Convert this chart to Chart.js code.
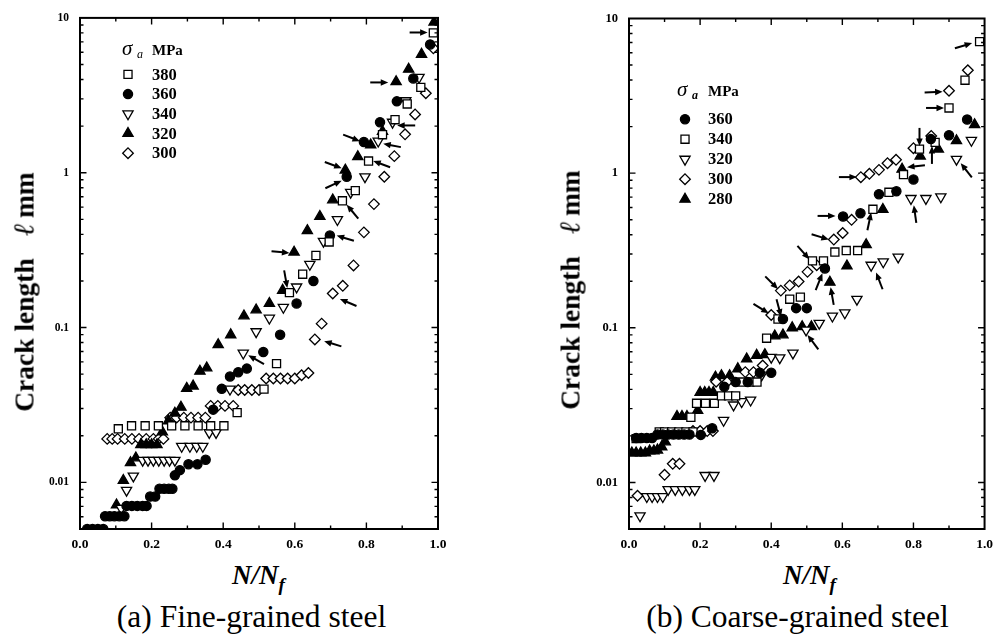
<!DOCTYPE html>
<html>
<head>
<meta charset="utf-8">
<script src="https://cdn.jsdelivr.net/npm/chart.js@4/dist/chart.umd.min.js"></script>
<style>
body { margin: 0; width: 1002px; height: 640px; background: #fff; position: relative; overflow: hidden; font-family: "Liberation Serif", "Times New Roman", serif; color: #000; }
canvas { position: absolute; top: 0; }
#chartA { left: 0; }
#chartB { left: 500px; }
.ytitle { position: absolute; white-space: nowrap; font-size: 27.5px; line-height: 1; font-weight: bold; transform: translate(-50%, -50%) rotate(-90deg); }
.ytitle .ell { font-weight: normal; font-style: italic; font-size: 29px; margin: 0 6px 0 22px; }
.xtitle { position: absolute; top: 562px; font-size: 27px; line-height: 1; font-weight: bold; font-style: italic; white-space: nowrap; }
.xtitle sub { font-size: 19px; vertical-align: -7px; }
.caption { position: absolute; top: 601px; font-size: 31.5px; line-height: 1; white-space: nowrap; transform: translateX(-50%); }
</style>
</head>
<body>
<canvas id="chartA" width="460" height="560"></canvas>
<canvas id="chartB" width="500" height="560"></canvas>

<div class="ytitle" style="left:23.5px; top:292px;">Crack length<span class="ell">ℓ</span>mm</div>
<div class="ytitle" style="left:570px; top:290px;">Crack length<span class="ell">ℓ</span>mm</div>
<div class="xtitle" style="left:232px;">N/N<sub>f</sub></div>
<div class="xtitle" style="left:783px;">N/N<sub>f</sub></div>
<div class="caption" style="left:251.5px;">(a) Fine-grained steel</div>
<div class="caption" style="left:797.5px;">(b) Coarse-grained steel</div>

<script>
// axis ticks
const xTickValues = [0, 0.2, 0.4, 0.6, 0.8, 1.0];
const xTickLabels = ["0.0", "0.2", "0.4", "0.6", "0.8", "1.0"];
const yTickValues = [0.01, 0.1, 1, 10];
const yTickLabels = ["0.01", "0.1", "1", "10"];

// (a) fine-grained steel, [N/Nf, crack length mm]
const fineLevels = ["380", "360", "340", "320", "300"];
const fine380 = [[0.107,0.0222],[0.144,0.0232],[0.182,0.0232],[0.219,0.0232],[0.256,0.0232],[0.293,0.0232],[0.330,0.0232],[0.365,0.0232],[0.402,0.0232],[0.439,0.0282],[0.514,0.040],[0.549,0.0585],[0.585,0.168],[0.622,0.221],[0.659,0.292],[0.696,0.357],[0.733,0.659],[0.769,0.767],[0.806,1.19],[0.845,1.76],[0.880,2.20],[0.914,2.78],[0.952,3.56],[0.987,8.01]];
const fine360 = [[0.02,0.005],[0.035,0.005],[0.05,0.005],[0.065,0.005],[0.07,0.00605],[0.083,0.00605],[0.096,0.00605],[0.11,0.00605],[0.124,0.00605],[0.13,0.00705],[0.145,0.00705],[0.16,0.00705],[0.175,0.00705],[0.186,0.00705],[0.196,0.0081],[0.21,0.0081],[0.222,0.0091],[0.235,0.0091],[0.248,0.0091],[0.258,0.0091],[0.265,0.0111],[0.279,0.012],[0.303,0.0131],[0.328,0.0131],[0.351,0.014],[0.372,0.0295],[0.396,0.0402],[0.419,0.0483],[0.442,0.0515],[0.466,0.0543],[0.512,0.0695],[0.559,0.0898],[0.605,0.143],[0.652,0.200],[0.698,0.393],[0.745,0.942],[0.793,1.58],[0.838,2.12],[0.885,2.89],[0.931,4.06],[0.978,6.74]];
const fine340 = [[0.115,0.0068],[0.130,0.0089],[0.149,0.011],[0.175,0.0139],[0.19,0.0139],[0.205,0.0139],[0.22,0.0139],[0.235,0.0139],[0.25,0.0139],[0.265,0.0139],[0.284,0.0171],[0.307,0.0171],[0.326,0.0171],[0.343,0.0171],[0.361,0.021],[0.38,0.021],[0.419,0.040],[0.456,0.0684],[0.492,0.094],[0.529,0.115],[0.568,0.135],[0.605,0.183],[0.642,0.256],[0.680,0.361],[0.719,0.498],[0.756,0.748],[0.796,0.942],[0.833,1.60],[0.873,2.12],[0.910,2.92],[0.947,4.13]];
const fine320 = [[0.102,0.00715],[0.121,0.0103],[0.141,0.0134],[0.156,0.0144],[0.17,0.0175],[0.185,0.0175],[0.20,0.0175],[0.215,0.0175],[0.230,0.0212],[0.247,0.025],[0.265,0.028],[0.282,0.0306],[0.298,0.0405],[0.316,0.0419],[0.335,0.0522],[0.354,0.0549],[0.386,0.0775],[0.421,0.0898],[0.458,0.119],[0.492,0.130],[0.529,0.143],[0.566,0.174],[0.598,0.307],[0.635,0.423],[0.670,0.522],[0.706,0.668],[0.741,1.04],[0.776,1.27],[0.812,1.51],[0.845,1.85],[0.883,3.87],[0.918,4.66],[0.954,5.82],[0.989,9.39]];
const fine300 = [[0.076,0.0191],[0.09,0.0191],[0.105,0.0191],[0.125,0.0191],[0.145,0.0191],[0.165,0.0191],[0.185,0.0191],[0.205,0.0191],[0.22,0.0191],[0.233,0.0191],[0.252,0.0262],[0.27,0.0262],[0.29,0.0262],[0.31,0.0262],[0.33,0.0262],[0.35,0.0262],[0.365,0.0312],[0.385,0.0312],[0.405,0.0312],[0.428,0.0312],[0.442,0.0395],[0.46,0.0395],[0.48,0.0395],[0.50,0.0395],[0.52,0.0469],[0.54,0.0469],[0.56,0.0469],[0.58,0.0469],[0.60,0.0469],[0.619,0.0492],[0.638,0.0509],[0.656,0.0838],[0.675,0.106],[0.706,0.166],[0.734,0.186],[0.764,0.252],[0.793,0.412],[0.821,0.627],[0.850,0.942],[0.878,1.28],[0.908,1.77],[0.936,2.38],[0.966,3.26],[0.987,6.36]];

// (b) coarse-grained steel
const coarseLevels = ["360", "340", "320", "300", "280"];
const coarse360 = [[0.02,0.0194],[0.035,0.0194],[0.05,0.0194],[0.065,0.0194],[0.08,0.0204],[0.095,0.0204],[0.11,0.0204],[0.125,0.0204],[0.14,0.0204],[0.155,0.0204],[0.17,0.0204],[0.202,0.0203],[0.234,0.0224],[0.268,0.0415],[0.30,0.0446],[0.334,0.0446],[0.368,0.0512],[0.40,0.0512],[0.433,0.114],[0.47,0.134],[0.50,0.134],[0.551,0.242],[0.602,0.524],[0.651,0.55],[0.703,0.731],[0.752,0.763],[0.80,0.91],[0.849,1.66],[0.90,1.76],[0.951,2.22]];
const coarse340 = [[0.02,0.0192],[0.085,0.0212],[0.10,0.0212],[0.12,0.0212],[0.14,0.0212],[0.16,0.0212],[0.18,0.0212],[0.174,0.0264],[0.19,0.0325],[0.215,0.0325],[0.24,0.0325],[0.26,0.0363],[0.28,0.0363],[0.30,0.0363],[0.32,0.0446],[0.34,0.0446],[0.36,0.0446],[0.387,0.0856],[0.419,0.114],[0.452,0.153],[0.482,0.158],[0.516,0.271],[0.547,0.271],[0.579,0.309],[0.611,0.316],[0.643,0.316],[0.686,0.584],[0.731,0.752],[0.772,0.98],[0.817,1.43],[0.861,1.58],[0.90,2.64],[0.945,3.99],[0.986,7.08]];
const coarse320 = [[0.031,0.00608],[0.05,0.0081],[0.065,0.0081],[0.08,0.0081],[0.095,0.0081],[0.11,0.009],[0.13,0.009],[0.15,0.009],[0.17,0.009],[0.185,0.009],[0.214,0.0111],[0.239,0.0111],[0.266,0.0252],[0.294,0.0317],[0.317,0.0333],[0.342,0.0341],[0.373,0.0495],[0.40,0.0645],[0.424,0.064],[0.461,0.0687],[0.498,0.0968],[0.535,0.107],[0.572,0.119],[0.607,0.125],[0.641,0.153],[0.681,0.254],[0.715,0.267],[0.757,0.287],[0.793,0.686],[0.835,0.686],[0.877,0.703],[0.921,1.23],[0.963,1.63]];
const coarse300 = [[0.024,0.0082],[0.10,0.0112],[0.123,0.0132],[0.142,0.0132],[0.18,0.0215],[0.20,0.0215],[0.22,0.0215],[0.236,0.0215],[0.245,0.0448],[0.276,0.0446],[0.327,0.0517],[0.35,0.0517],[0.376,0.057],[0.40,0.121],[0.427,0.174],[0.452,0.188],[0.477,0.199],[0.502,0.230],[0.528,0.254],[0.576,0.372],[0.601,0.41],[0.626,0.499],[0.652,0.942],[0.676,0.99],[0.703,1.05],[0.727,1.16],[0.751,1.22],[0.80,1.45],[0.85,1.74],[0.90,3.41],[0.953,4.63]];
const coarse280 = [[0.008,0.0155],[0.02,0.0155],[0.033,0.0155],[0.046,0.0155],[0.058,0.016],[0.07,0.016],[0.08,0.0162],[0.092,0.017],[0.102,0.0183],[0.135,0.0267],[0.149,0.0267],[0.163,0.0267],[0.193,0.0292],[0.20,0.0382],[0.213,0.0382],[0.225,0.0382],[0.237,0.0382],[0.243,0.048],[0.26,0.049],[0.283,0.049],[0.306,0.0543],[0.331,0.0629],[0.359,0.0664],[0.382,0.0671],[0.41,0.0887],[0.433,0.09],[0.459,0.10],[0.487,0.1017],[0.513,0.1017],[0.565,0.197],[0.613,0.251],[0.667,0.345],[0.714,0.583],[0.768,1.06],[0.819,1.29],[0.87,1.43],[0.921,1.62],[0.972,2.06]];

// arrow annotations: [tip N/Nf, tip length, direction deg]
const fineArrows = [[0.971,8.05,0],[0.861,3.83,0],[0.886,2.02,180],[0.782,1.60,21],[0.847,1.54,191],[0.819,1.19,200],[0.731,1.07,20],[0.731,0.889,-25],[0.745,0.621,230],[0.717,0.393,197],[0.585,0.303,6],[0.579,0.18,80],[0.726,0.153,203],[0.47,0.0662,209],[0.682,0.0817,197]];
const coarseArrows = [[0.965,6.94,-17],[0.882,3.36,-2],[0.886,2.64,0],[0.817,1.50,90],[0.852,1.50,-90],[0.933,1.16,232],[0.782,1.09,173],[0.641,0.943,0],[0.801,0.621,262],[0.581,0.529,0],[0.681,0.556,-78],[0.562,0.372,17],[0.507,0.277,49],[0.544,0.225,-68],[0.567,0.183,-100],[0.695,0.228,249],[0.419,0.178,45],[0.428,0.118,75],[0.393,0.124,32],[0.502,0.0899,233]];

const serif = '"Liberation Serif", "Times New Roman", serif';

const markers = {
    openSquare: { pointStyle: "rect", radius: 5.7, rotation: 0, fill: "#fff" },
    dot: { pointStyle: "circle", radius: 4.6, rotation: 0, fill: "#000" },
    openDown: { pointStyle: "triangle", radius: 5.9, rotation: 180, fill: "#fff" },
    solidUp: { pointStyle: "triangle", radius: 5.9, rotation: 0, fill: "#000" },
    openDiamond: { pointStyle: "rectRot", radius: 5.3, rotation: 0, fill: "#fff" }
};

function makeDataset(label, points, marker) {
    const m = markers[marker];
    return {
        label: label,
        data: points.map(p => ({ x: p[0], y: p[1] })),
        marker: marker,
        pointStyle: m.pointStyle,
        pointRadius: m.radius,
        pointRotation: m.rotation,
        pointBackgroundColor: m.fill,
        pointBorderColor: "#000",
        pointBorderWidth: 1.3,
        showLine: false,
        clip: 0
    };
}

function drawMarker(ctx, marker, x, y) {
    const m = markers[marker];
    ctx.fillStyle = m.fill;
    ctx.strokeStyle = "#000";
    ctx.lineWidth = 1.3;
    Chart.helpers.drawPoint(ctx, { pointStyle: m.pointStyle, radius: m.radius, rotation: m.rotation, borderWidth: 1.3 }, x, y);
}

const framePlugin = {
    id: "frame",
    afterDraw(chart, args, opts) {
        const ctx = chart.ctx;
        const a = chart.chartArea;
        const x = chart.scales.x;
        const y = chart.scales.y;
        ctx.save();
        ctx.strokeStyle = "#000";
        ctx.lineWidth = 1.4;
        ctx.beginPath();
        for (let i = 1; i < 10; i++) {
            const px = x.getPixelForValue(i / 10);
            const len = i % 2 === 0 ? 6.5 : 3.5;
            ctx.moveTo(px, a.bottom); ctx.lineTo(px, a.bottom - len);
            ctx.moveTo(px, a.top); ctx.lineTo(px, a.top + len);
        }
        for (let e = -3; e <= 1; e++) {
            for (let m = 1; m <= 9; m++) {
                const v = m * Math.pow(10, e);
                if (v <= y.min * 1.0001 || v >= y.max * 0.9999) continue;
                const py = y.getPixelForValue(v);
                const len = m === 1 ? 6.5 : 3.5;
                ctx.moveTo(a.left, py); ctx.lineTo(a.left + len, py);
                ctx.moveTo(a.right, py); ctx.lineTo(a.right - len, py);
            }
        }
        ctx.stroke();
        ctx.lineWidth = 2;
        ctx.strokeRect(a.left, a.top, a.right - a.left, a.bottom - a.top);

        // arrows
        ctx.fillStyle = "#000";
        ctx.lineWidth = 2;
        opts.arrows.forEach(ar => {
            const tx = x.getPixelForValue(ar[0]);
            const ty = y.getPixelForValue(ar[1]);
            const ang = ar[2] * Math.PI / 180;
            const c = Math.cos(ang), s = Math.sin(ang);
            const len = 18, head = 7.5, hw = 3.2;
            ctx.beginPath();
            ctx.moveTo(tx - c * len, ty - s * len);
            ctx.lineTo(tx - c * (head - 1), ty - s * (head - 1));
            ctx.stroke();
            ctx.beginPath();
            ctx.moveTo(tx, ty);
            ctx.lineTo(tx - c * head - s * hw, ty - s * head + c * hw);
            ctx.lineTo(tx - c * head + s * hw, ty - s * head - c * hw);
            ctx.closePath();
            ctx.fill();
        });

        // legend
        const lg = opts.legend;
        const lx = a.left, ly = a.top;
        ctx.fillStyle = "#000";
        ctx.textBaseline = "alphabetic";
        ctx.textAlign = "left";
        ctx.font = "italic 21px " + serif;
        ctx.fillText("σ", lx + lg.sigmaX, ly + lg.headY);
        ctx.font = lg.subFont + " 12px " + serif;
        ctx.fillText("a", lx + lg.subX, ly + lg.headY + 3);
        ctx.font = "bold 15px " + serif;
        ctx.fillText("MPa", lx + lg.labelX, ly + lg.headY);
        ctx.font = "bold 16.5px " + serif;
        ctx.textBaseline = "middle";
        chart.data.datasets.forEach((d, i) => {
            const ry = ly + lg.rowY + i * lg.rowGap;
            drawMarker(ctx, d.marker, lx + lg.markerX, ry);
            ctx.fillStyle = "#000";
            ctx.fillText(d.label, lx + lg.labelX, ry + 1);
        });
        ctx.restore();
    }
};

function makeChart(canvasId, datasets, layout, tickSize, arrows, legend) {
    new Chart(document.getElementById(canvasId), {
        type: "scatter",
        data: { datasets: datasets },
        options: {
            responsive: false,
            animation: false,
            devicePixelRatio: 1,
            events: [],
            layout: { padding: { top: layout.top, right: layout.right, left: 0, bottom: 0 } },
            plugins: {
                legend: { display: false },
                tooltip: { enabled: false },
                frame: { arrows: arrows, legend: legend }
            },
            scales: {
                x: {
                    type: "linear",
                    min: 0,
                    max: 1,
                    afterBuildTicks: s => { s.ticks = xTickValues.map(v => ({ value: v })); },
                    afterFit: s => { s.height = layout.xHeight; },
                    grid: { display: false, drawTicks: false },
                    border: { display: false },
                    ticks: {
                        callback: v => xTickLabels[xTickValues.indexOf(v)],
                        font: { family: serif, weight: "bold", size: 13.5 },
                        color: "#000",
                        padding: 7,
                        maxRotation: 0,
                        autoSkip: false
                    }
                },
                y: {
                    type: "logarithmic",
                    min: 0.005,
                    max: 10,
                    afterBuildTicks: s => { s.ticks = yTickValues.map(v => ({ value: v })); },
                    afterFit: s => { s.width = layout.yWidth; },
                    grid: { display: false, drawTicks: false },
                    border: { display: false },
                    ticks: {
                        callback: v => yTickLabels[yTickValues.indexOf(v)],
                        font: { family: serif, weight: "bold", size: tickSize },
                        color: "#000",
                        padding: 11,
                        autoSkip: false
                    }
                }
            }
        },
        plugins: [framePlugin]
    });
}

makeChart("chartA", [
    makeDataset(fineLevels[0], fine380, "openSquare"),
    makeDataset(fineLevels[1], fine360, "dot"),
    makeDataset(fineLevels[2], fine340, "openDown"),
    makeDataset(fineLevels[3], fine320, "solidUp"),
    makeDataset(fineLevels[4], fine300, "openDiamond")
], { top: 15, right: 22, xHeight: 31, yWidth: 80 }, 11.5, fineArrows,
   { sigmaX: 42, subX: 57, labelX: 72, markerX: 48, headY: 37.5, rowY: 56.5, rowGap: 19.7, subFont: "italic" });

makeChart("chartB", [
    makeDataset(coarseLevels[0], coarse360, "dot"),
    makeDataset(coarseLevels[1], coarse340, "openSquare"),
    makeDataset(coarseLevels[2], coarse320, "openDown"),
    makeDataset(coarseLevels[3], coarse300, "openDiamond"),
    makeDataset(coarseLevels[4], coarse280, "solidUp")
], { top: 12, right: 11, xHeight: 31, yWidth: 129 }, 12.5, coarseArrows,
   { sigmaX: 48, subX: 63, labelX: 79, markerX: 56, headY: 77, rowY: 100.7, rowGap: 20, subFont: "italic bold" });
</script>
</body>
</html>
